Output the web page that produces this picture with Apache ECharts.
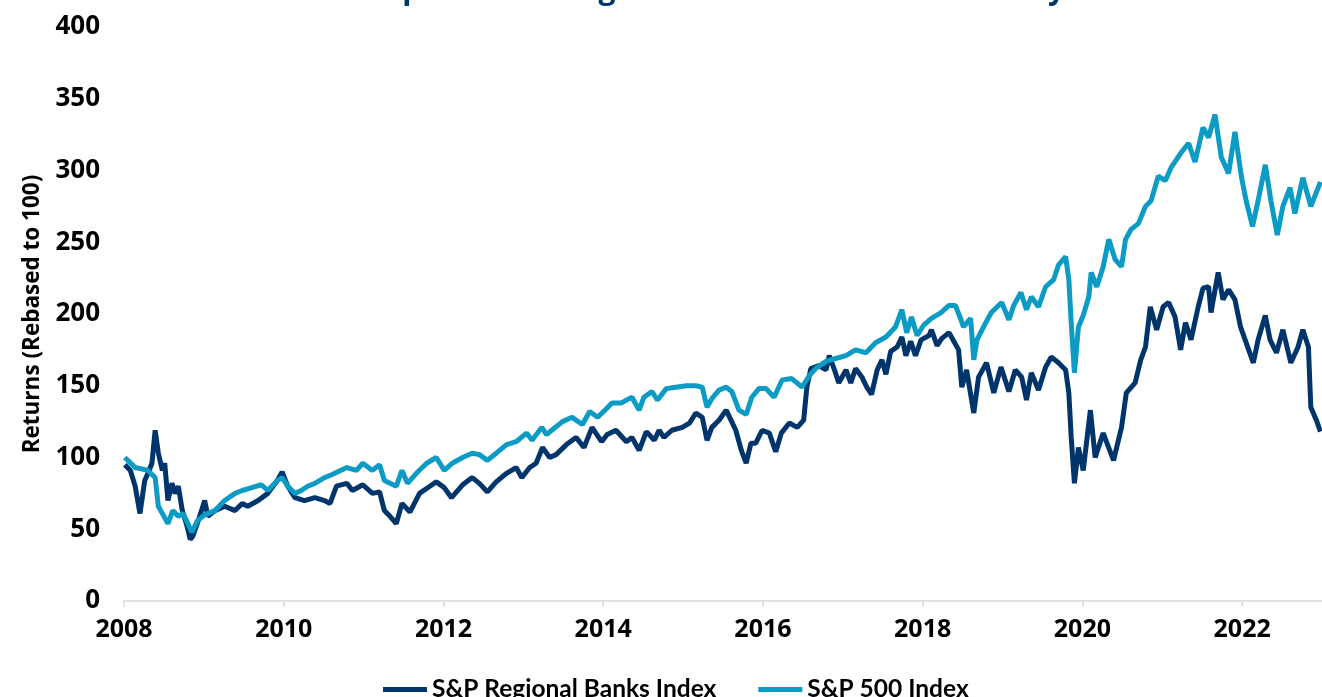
<!DOCTYPE html>
<html>
<head>
<meta charset="utf-8">
<title>Regional Banks vs S&amp;P 500</title>
<script src="https://cdn.jsdelivr.net/npm/echarts@6/dist/echarts.min.js"></script>
<style>
  * { margin: 0; padding: 0; }
  html, body { width: 100%; height: 100%; background: #ffffff; overflow: hidden; }
  #main { width: 1322px; height: 697px; }
</style>
</head>
<body>
<div id="main"></div>
<script>
// values: [year, rebased return]
var regionalBanks = [
  [2008.01, 95], [2008.08, 91], [2008.14, 80], [2008.20, 61], [2008.26, 84], [2008.30, 89],
  [2008.35, 96], [2008.39, 119], [2008.43, 103], [2008.48, 91], [2008.51, 96], [2008.55, 70],
  [2008.60, 82], [2008.64, 75], [2008.68, 80], [2008.73, 63], [2008.79, 52], [2008.83, 43],
  [2008.86, 45], [2008.93, 56], [2009.01, 70], [2009.05, 59], [2009.14, 63], [2009.26, 66],
  [2009.39, 63], [2009.48, 68], [2009.55, 66], [2009.68, 70], [2009.80, 75], [2009.92, 84],
  [2009.98, 90], [2010.05, 80], [2010.14, 72], [2010.26, 70], [2010.39, 72], [2010.51, 70],
  [2010.58, 68], [2010.66, 80], [2010.79, 82], [2010.86, 77], [2010.99, 81], [2011.11, 75],
  [2011.20, 76], [2011.26, 63], [2011.33, 59], [2011.41, 54], [2011.48, 68], [2011.58, 62],
  [2011.70, 75], [2011.83, 80], [2011.91, 83], [2012.01, 79], [2012.10, 72], [2012.24, 81],
  [2012.36, 86], [2012.45, 82], [2012.55, 76], [2012.66, 83], [2012.79, 89], [2012.91, 93],
  [2012.98, 86], [2013.08, 93], [2013.16, 96], [2013.24, 107], [2013.33, 100], [2013.41, 102],
  [2013.54, 109], [2013.66, 114], [2013.76, 107], [2013.86, 121], [2013.98, 111], [2014.05, 116],
  [2014.16, 119], [2014.29, 111], [2014.36, 114], [2014.45, 105], [2014.54, 118], [2014.64, 112],
  [2014.70, 119], [2014.76, 114], [2014.86, 119], [2014.99, 121], [2015.08, 124], [2015.16, 131],
  [2015.24, 128], [2015.30, 112], [2015.36, 121], [2015.45, 126], [2015.54, 133], [2015.60, 126],
  [2015.66, 119], [2015.73, 105], [2015.79, 96], [2015.85, 110], [2015.91, 110], [2015.99, 119],
  [2016.08, 117], [2016.16, 104], [2016.23, 117], [2016.33, 124], [2016.43, 121], [2016.51, 126],
  [2016.55, 149], [2016.60, 162], [2016.70, 164], [2016.79, 161], [2016.83, 171], [2016.89, 162],
  [2016.95, 152], [2017.04, 161], [2017.10, 152], [2017.16, 162], [2017.24, 156], [2017.30, 149],
  [2017.36, 144], [2017.43, 161], [2017.49, 168], [2017.54, 158], [2017.60, 174], [2017.68, 177],
  [2017.74, 184], [2017.79, 171], [2017.85, 181], [2017.91, 171], [2017.98, 182], [2018.08, 185],
  [2018.11, 189], [2018.18, 178], [2018.24, 183], [2018.33, 187], [2018.39, 181], [2018.45, 175],
  [2018.49, 149], [2018.55, 161], [2018.64, 131], [2018.70, 156], [2018.80, 166], [2018.89, 145],
  [2018.98, 163], [2019.08, 146], [2019.16, 161], [2019.24, 156], [2019.30, 140], [2019.36, 159],
  [2019.45, 147], [2019.54, 163], [2019.61, 170], [2019.70, 166], [2019.79, 161], [2019.83, 145],
  [2019.86, 114], [2019.90, 82], [2019.95, 107], [2020.01, 91], [2020.10, 133], [2020.16, 100],
  [2020.26, 117], [2020.39, 98], [2020.49, 121], [2020.55, 145], [2020.66, 152], [2020.73, 168],
  [2020.79, 177], [2020.85, 205], [2020.93, 189], [2021.01, 205], [2021.08, 208], [2021.16, 198],
  [2021.23, 175], [2021.29, 194], [2021.36, 182], [2021.45, 205], [2021.51, 218], [2021.58, 219],
  [2021.61, 201], [2021.70, 229], [2021.76, 210], [2021.83, 217], [2021.91, 210], [2021.98, 191],
  [2022.05, 180], [2022.14, 166], [2022.20, 182], [2022.29, 199], [2022.35, 182], [2022.43, 173],
  [2022.51, 189], [2022.61, 166], [2022.70, 177], [2022.76, 189], [2022.83, 177], [2022.86, 135],
  [2022.93, 126], [2022.98, 118]
];

var sp500 = [
  [2008.01, 100], [2008.14, 93], [2008.30, 91], [2008.39, 86], [2008.43, 66], [2008.49, 60],
  [2008.55, 54], [2008.61, 63], [2008.68, 59], [2008.74, 61], [2008.85, 48], [2008.92, 56],
  [2009.01, 60], [2009.14, 63], [2009.26, 70], [2009.39, 75], [2009.48, 77], [2009.60, 79],
  [2009.72, 81], [2009.80, 77], [2009.92, 84], [2009.98, 86], [2010.05, 80], [2010.14, 75],
  [2010.22, 77], [2010.30, 80], [2010.39, 82], [2010.51, 86], [2010.60, 88], [2010.79, 93],
  [2010.91, 91], [2010.99, 96], [2011.11, 91], [2011.20, 95], [2011.26, 84], [2011.41, 80],
  [2011.48, 91], [2011.55, 82], [2011.66, 89], [2011.79, 96], [2011.91, 100], [2012.01, 91],
  [2012.11, 96], [2012.24, 100], [2012.36, 103], [2012.45, 102], [2012.55, 98], [2012.66, 103],
  [2012.79, 109], [2012.91, 111], [2013.04, 117], [2013.11, 112], [2013.23, 121], [2013.29, 116],
  [2013.49, 125], [2013.61, 128], [2013.74, 123], [2013.83, 132], [2013.93, 128], [2014.04, 134],
  [2014.11, 138], [2014.23, 138], [2014.29, 140], [2014.36, 142], [2014.45, 133], [2014.51, 142],
  [2014.61, 146], [2014.68, 140], [2014.79, 148], [2014.91, 149], [2015.04, 150], [2015.16, 150],
  [2015.24, 149], [2015.30, 135], [2015.36, 141], [2015.45, 147], [2015.54, 149], [2015.61, 146],
  [2015.70, 133], [2015.79, 130], [2015.86, 142], [2015.95, 148], [2016.04, 148], [2016.14, 142],
  [2016.24, 154], [2016.36, 155], [2016.49, 149], [2016.58, 157], [2016.66, 162], [2016.79, 167],
  [2016.91, 169], [2017.04, 171], [2017.16, 175], [2017.29, 173], [2017.41, 180], [2017.54, 184],
  [2017.66, 191], [2017.74, 203], [2017.80, 187], [2017.86, 198], [2017.93, 185], [2018.01, 192],
  [2018.11, 197], [2018.23, 201], [2018.33, 206], [2018.41, 206], [2018.48, 196], [2018.51, 191],
  [2018.60, 197], [2018.64, 168], [2018.68, 182], [2018.79, 194], [2018.86, 201], [2018.99, 208],
  [2019.08, 196], [2019.14, 206], [2019.23, 215], [2019.30, 203], [2019.36, 212], [2019.45, 205],
  [2019.54, 219], [2019.64, 224], [2019.70, 234], [2019.79, 240], [2019.83, 224], [2019.86, 194],
  [2019.90, 159], [2019.95, 191], [2020.01, 199], [2020.08, 212], [2020.11, 229], [2020.18, 219],
  [2020.26, 233], [2020.33, 252], [2020.41, 238], [2020.49, 233], [2020.54, 252], [2020.61, 259],
  [2020.70, 263], [2020.79, 275], [2020.86, 279], [2020.95, 296], [2021.04, 293], [2021.11, 302],
  [2021.23, 312], [2021.33, 319], [2021.41, 306], [2021.51, 330], [2021.58, 323], [2021.66, 339],
  [2021.74, 309], [2021.83, 298], [2021.91, 327], [2021.99, 296], [2022.05, 279], [2022.13, 261],
  [2022.20, 279], [2022.29, 304], [2022.36, 279], [2022.44, 255], [2022.51, 275], [2022.60, 288],
  [2022.66, 270], [2022.76, 295], [2022.86, 275], [2022.98, 292]
];

var seriesNames = ['S&P Regional Banks Index', 'S&P 500 Index'];
var seriesColors = ['#00356B', '#0B9BC4'];

var chart = echarts.init(document.getElementById('main'));
chart.setOption({
  animation: false,
  backgroundColor: '#ffffff',
  // title sits above the top edge, only its descenders show
  title: {
    text: 'Comparison of Regional Banks vs. S&P 500 Yearly',
    left: 330,
    top: -30,
    textStyle: { color: '#00356B', fontFamily: 'Open Sans', fontWeight: 700, fontSize: 30 }
  },
  grid: { left: 124, right: -2, top: 27, bottom: 96, containLabel: false },
  legend: {
    data: seriesNames,
    left: 378,
    top: 672,
    icon: 'rect',
    itemWidth: 44,
    itemHeight: 5,
    itemGap: 42,
    textStyle: { color: '#000000', fontFamily: 'Lato', fontWeight: 700, fontSize: 24.5 }
  },
  xAxis: {
    type: 'value',
    min: 2008,
    max: 2023,
    interval: 2,
    splitLine: { show: false },
    axisLine: { show: true, lineStyle: { color: '#d9d9d9', width: 1.5 } },
    axisTick: { show: true, length: 6, lineStyle: { color: '#d9d9d9', width: 1.5 } },
    axisLabel: {
      showMaxLabel: false,
      margin: 16,
      color: '#000000',
      fontFamily: 'Open Sans',
      fontWeight: 700,
      fontSize: 25,
      formatter: function (v) { return String(v); }
    }
  },
  yAxis: {
    type: 'value',
    min: 0,
    max: 400,
    interval: 50,
    name: 'Returns (Rebased to 100)',
    nameLocation: 'middle',
    nameGap: 80,
    nameTextStyle: { color: '#000000', fontFamily: 'Open Sans', fontWeight: 700, fontSize: 22.5 },
    splitLine: { show: false },
    axisLine: { show: false },
    axisTick: { show: false },
    axisLabel: {
      margin: 24,
      color: '#000000',
      fontFamily: 'Open Sans',
      fontWeight: 700,
      fontSize: 26
    }
  },
  series: [
    {
      name: seriesNames[0],
      type: 'line',
      data: regionalBanks,
      showSymbol: false,
      color: seriesColors[0],
      lineStyle: { width: 5, color: seriesColors[0] }
    },
    {
      name: seriesNames[1],
      type: 'line',
      data: sp500,
      showSymbol: false,
      color: seriesColors[1],
      lineStyle: { width: 5, color: seriesColors[1] }
    }
  ]
});
</script>
</body>
</html>
